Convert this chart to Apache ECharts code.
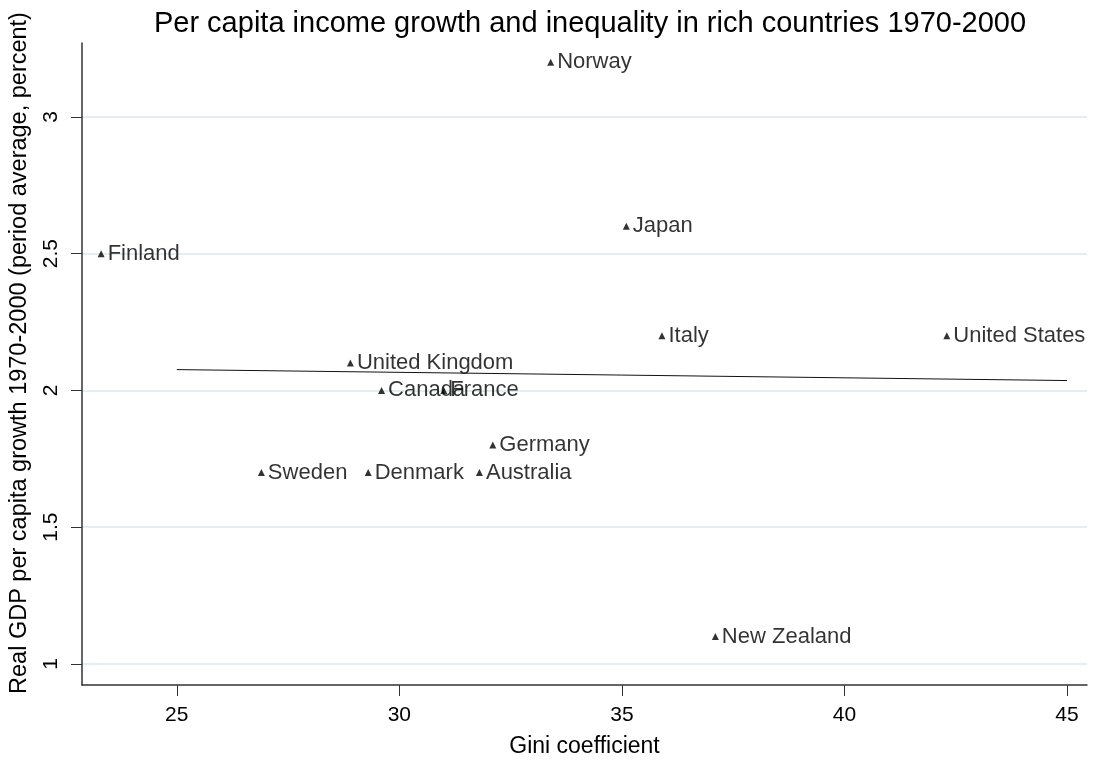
<!DOCTYPE html>
<html><head><meta charset="utf-8">
<script src="https://cdn.jsdelivr.net/npm/echarts@6/dist/echarts.min.js"></script>
<style>html,body{margin:0;padding:0;background:#fff}#c{width:1099px;height:763px}</style>
</head><body><div id="c"></div>
<script>
const countries = ["Norway","Japan","Finland","Italy","United States","United Kingdom","Canada","France","Germany","Sweden","Denmark","Australia","New Zealand"];
const gini = [33.4, 35.1, 23.3, 35.9, 42.3, 28.9, 29.6, 31.0, 32.1, 26.9, 29.3, 31.8, 37.1];
const growth = [3.2, 2.6, 2.5, 2.2, 2.2, 2.1, 2.0, 2.0, 1.8, 1.7, 1.7, 1.7, 1.1];
const fitX = [25, 45];
const fitY = [2.076, 2.036];
const xTicks = [25, 30, 35, 40, 45];
const yTicks = [1, 1.5, 2, 2.5, 3];

const font = 'Liberation Sans, Arial, sans-serif';
const chart = echarts.init(document.getElementById('c'));
chart.setOption({
  animation: false,
  title: { text: 'Per capita income growth and inequality in rich countries 1970-2000', left: 585, textAlign: 'center', top: 4,
    textStyle: { fontFamily: font, fontSize: 29, fontWeight: 'normal', color: '#000' } },
  grid: { left: 82, right: 12, top: 43, bottom: 77 },
  xAxis: {
    type: 'value', min: 22.87, max: 45.45, interval: 5,
    name: 'Gini coefficient', nameLocation: 'middle', nameGap: 50,
    nameTextStyle: { fontFamily: font, fontSize: 23, color: '#000' },
    axisLine: { show: true, onZero: false, lineStyle: { color: '#333', width: 1.5 } },
    axisTick: { show: true, inside: false, length: 11, lineStyle: { color: '#333' }, customValues: xTicks },
    axisLabel: { fontFamily: font, fontSize: 21, color: '#000', margin: 20, customValues: xTicks },
    splitLine: { show: false }
  },
  yAxis: {
    type: 'value', min: 0.923, max: 3.27,
    name: 'Real GDP per capita growth 1970-2000 (period average, percent)', nameLocation: 'middle', nameGap: 50,
    nameTextStyle: { fontFamily: font, fontSize: 23.5, color: '#000', padding: [0, 0, 0, 22] },
    axisLine: { show: true, onZero: false, lineStyle: { color: '#333', width: 1.5 } },
    axisTick: { show: true, inside: false, length: 11, lineStyle: { color: '#333' }, customValues: yTicks },
    axisLabel: { fontFamily: font, fontSize: 21, color: '#000', margin: 20, rotate: 90, customValues: yTicks,
      formatter: v => String(v) },
    splitLine: { show: true, lineStyle: { color: '#e4eef1', width: 2 }, customValues: yTicks }
  },
  series: [
    {
      type: 'scatter', symbol: 'triangle', symbolSize: 7,
      itemStyle: { color: '#000' },
      data: countries.map((c, i) => ({ name: c, value: [gini[i], growth[i]] })),
      label: { show: true, position: 'right', distance: 3, formatter: p => p.name,
        fontFamily: font, fontSize: 22, color: '#000' },
      labelLayout: { hideOverlap: false }
    },
    {
      type: 'line', symbol: 'none', silent: true,
      lineStyle: { color: '#111', width: 1 },
      data: fitX.map((x, i) => [x, fitY[i]])
    }
  ]
});
</script></body></html>
